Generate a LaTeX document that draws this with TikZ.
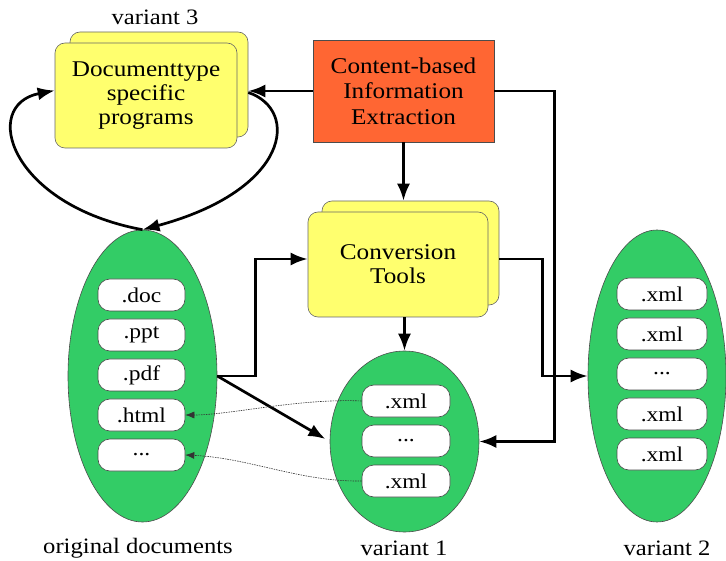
\documentclass[tikz,border=0pt]{standalone}
\usepackage{fontspec}
\setmainfont{Liberation Serif}[FakeStretch=1.12]
\usetikzlibrary{shapes.geometric,arrows.meta,calc}
\definecolor{boxyellow}{RGB}{255,255,110}
\definecolor{boxred}{RGB}{255,102,51}
\definecolor{ellgreen}{RGB}{51,204,102}
\begin{document}
\begin{tikzpicture}[x=1pt,y=-1pt,
  ybox/.style={draw=black!60,line width=0.6pt,fill=boxyellow,rounded corners=10pt,inner sep=0pt,align=center,font=\fontsize{22.5}{24}\selectfont},
  rbox/.style={draw=black!70,line width=0.6pt,fill=boxred,inner sep=0pt,align=center,font=\fontsize{22.5}{25.5}\selectfont},
  gell/.style={ellipse,draw=black!70,line width=0.6pt,fill=ellgreen,inner sep=0pt},
  item/.style={draw=black!70,line width=0.6pt,fill=white,rounded corners=12pt,inner sep=0pt,minimum width=87pt,minimum height=32pt,font=\fontsize{21}{22}\selectfont},
  lbl/.style={inner sep=0pt,font=\fontsize{22}{24}\selectfont},
  arr/.style={line width=2.7pt,-{Latex[length=17pt,width=13pt]}},
  dots/.style={line width=0.6pt,dash pattern=on 1.5pt off 1pt,black!80,-{Latex[length=9pt,width=7pt]}}]
\useasboundingbox (0,0) rectangle (726,561);

% variant 3 boxes
\node[ybox,minimum width=178pt,minimum height=105pt] (db) at (159,84.5) {};
\node[ybox,minimum width=182pt,minimum height=105pt] (df) at (146,95.5) {Documenttype\\specific\\programs};
\node[lbl] (l3) at (155,17) {variant 3};

% content-based box
\node[rbox,minimum width=181pt,minimum height=102pt] (ce) at (403.5,91) {Content-based\\Information\\Extraction};

% conversion tools
\node[ybox,minimum width=177pt,minimum height=104pt] (cb) at (410.5,253) {};
\node[ybox,minimum width=180pt,minimum height=105pt] (cf) at (398,264.5) {Conversion\\Tools};

% original documents
\node[gell,minimum width=149pt,minimum height=292pt] (oe) at (142.5,376) {};
\node[item] (o1) at (141.5,295) {.doc};
\node[item] (o2) at (141.5,335) {.ppt};
\node[item] (o3) at (141.5,375) {.pdf};
\node[item] (o4) at (141.5,415) {.html};
\node[item] (o5) at (141.5,455) {...};
\node[lbl] (l0) at (138,548) {original documents};

% variant 1
\node[gell,minimum width=149pt,minimum height=181pt] (v1e) at (404.5,441.5) {};
\node[item,minimum width=88pt] (a1) at (406,401) {.xml};
\node[item,minimum width=88pt] (a2) at (406,441) {...};
\node[item,minimum width=88pt] (a3) at (406,481) {.xml};
\node[lbl] (l1) at (404,548) {variant 1};

% variant 2
\node[gell,minimum width=138pt,minimum height=292pt] (v2e) at (657,376) {};
\node[item,minimum width=90pt] (b1) at (662,294) {.xml};
\node[item,minimum width=90pt] (b2) at (662,334) {.xml};
\node[item,minimum width=90pt] (b3) at (662,374) {...};
\node[item,minimum width=90pt] (b4) at (662,414) {.xml};
\node[item,minimum width=90pt] (b5) at (662,454) {.xml};
\node[lbl] (l2) at (667,548) {variant 2};

% connectors
\draw[arr] (ce.west) -- (ce.west -| db.east);
\draw[arr] (ce.east) -| ($(v1e.east)+(75,0)$) -- (v1e.east);
\draw[arr] (ce.south) -- (ce.south |- cb.north);
\draw[arr] (v1e.north |- cf.south) -- (v1e.north);
\draw[arr] ($(cb.east)+(0,6)$) -| ($(v2e.west)+(-45,0)$) -- (v2e.west);
\draw[arr] (oe.east) -- ++(38,0) |- ($(cf.west)+(0,-5.5)$);
\draw[arr,shorten >=5pt] (oe.east) -- (v1e.west);

% curved arrows round variant 3
\draw[arr] (oe.north) .. controls (10,205) and (-20,105) .. ($(df.west)+(0,-5)$);
\draw[arr] ($(db.east)+(0,8)$) .. controls (300,110) and (290,190) .. (oe.north);

% dotted back links
\draw[dots] (a1.west) .. controls (300,398) and (230,415) .. (o4.east);
\draw[dots] (a3.west) .. controls (300,482) and (250,458) .. (o5.east);
\end{tikzpicture}
\end{document}
